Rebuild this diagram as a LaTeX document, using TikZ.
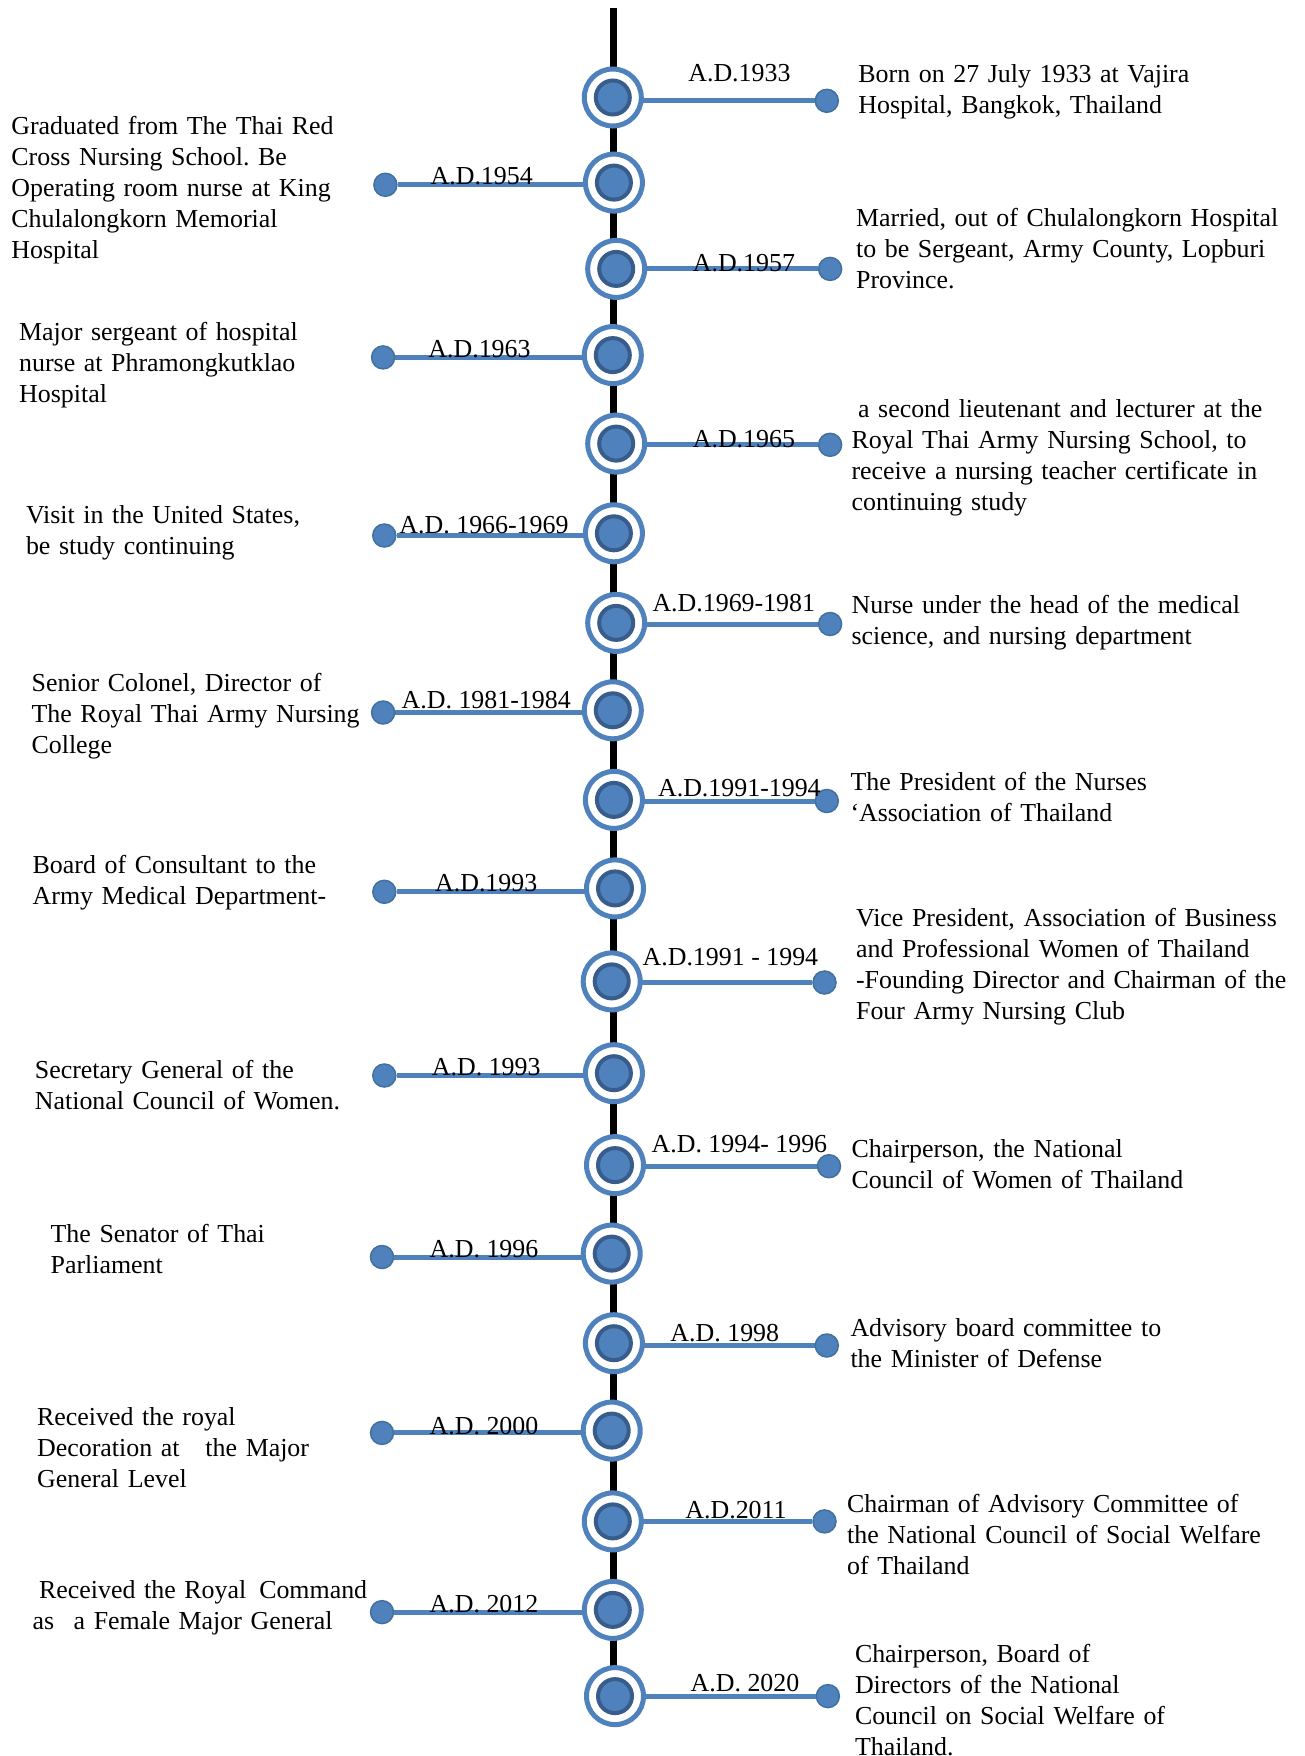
\documentclass[tikz,border=0pt]{standalone}
\usepackage{fontspec}
\setmainfont{Liberation Serif}
\usetikzlibrary{backgrounds}
\frenchspacing
\definecolor{ringblue}{HTML}{4F81BD}
\definecolor{coreedge}{HTML}{385D8A}
\definecolor{dotedge}{HTML}{41719C}
\tikzset{
  ring/.style={circle, draw=ringblue, line width=5pt, fill=white, minimum size=57pt, inner sep=0pt, outer sep=0pt},
  core/.style={circle, draw=coreedge, line width=4pt, fill=ringblue, minimum size=34pt, inner sep=0pt},
  enddot/.style={circle, draw=dotedge, line width=1.5pt, fill=ringblue, minimum size=23pt, inner sep=0pt},
  hline/.style={draw=ringblue, line width=5pt},
  spine/.style={draw=black, line width=7pt},
  year/.style={font=\fontsize{25.9}{31}\selectfont, inner sep=0pt, anchor=base},
  desc/.style={font=\fontsize{25.9}{31}\selectfont, inner sep=0pt, anchor=base west, text width=480pt, align=left},
}
\begin{document}
\begin{tikzpicture}[x=1pt,y=-1pt]
\useasboundingbox (0,0) rectangle (1304,1756);
\coordinate (top) at (613,8);
\foreach \i/\cx/\cy/\dx/\dy in {
 1/612.8/97.5/826.8/100.8,
 2/613.9/182.6/385.4/184.8,
 3/616.2/268.9/830.1/268.9,
 4/612.8/355.1/383.1/357.4,
 5/616.2/443.6/830.1/444.8,
 6/613.9/533.3/384.3/535.5,
 7/616.2/622.9/830.1/624.0,
 8/612.8/710.3/383.1/712.5,
 9/613.9/799.9/826.8/801.0,
 10/615.0/888.4/384.3/891.8,
 11/611.7/981.4/824.5/982.5,
 12/613.9/1073.2/384.3/1075.5,
 13/615.0/1165.1/829.0/1166.2,
 14/611.7/1253.6/382.0/1257.0,
 15/613.9/1343.2/826.8/1345.5,
 16/611.7/1430.6/382.0/1432.9,
 17/612.8/1521.4/824.5/1521.4,
 18/612.8/1609.9/382.0/1612.1,
 19/615.0/1696.1/827.9/1696.1}{
  \node[ring] (c\i) at (\cx,\cy) {};
  \node[core] (k\i) at (c\i) {};
  \node[enddot] (d\i) at (\dx,\dy) {};
}
\coordinate (bot) at (top |- c19.center);
\begin{scope}[on background layer]
  \fill[white] (0,0) rectangle (1304,1756);
  \draw[spine] (top) -- (bot);
  \foreach \i in {1,...,19} \draw[hline] (c\i.center |- d\i) -- (d\i);
\end{scope}
% year labels
\node[year] (l1) at (739.4,81.8) {A.D.1933};
\node[year] (l2) at (481.7,184.9) {A.D.1954};
\node[year] (l3) at (743.9,271.2) {A.D.1957};
\node[year] (l4) at (479.5,357.4) {A.D.1963};
\node[year] (l5) at (743.9,447.0) {A.D.1965};
\node[year] (l6) at (484.0,533.3) {A.D. 1966-1969};
\node[year] (l7) at (733.8,611.7) {A.D.1969-1981};
\node[year] (l8) at (486.2,708.1) {A.D. 1981-1984};
\node[year] (l9) at (739.4,796.6) {A.D.1991-1994};
\node[year] (l10) at (486.2,891.8) {A.D.1993};
\node[year] (l11) at (730.4,965.7) {A.D.1991 - 1994};
\node[year] (l12) at (486.2,1075.5) {A.D. 1993};
\node[year] (l13) at (739.4,1152.8) {A.D. 1994- 1996};
\node[year] (l14) at (484.0,1257.0) {A.D. 1996};
\node[year] (l15) at (724.8,1341.0) {A.D. 1998};
\node[year] (l16) at (484.0,1434.0) {A.D. 2000};
\node[year] (l17) at (736.0,1518.0) {A.D.2011};
\node[year] (l18) at (484.0,1612.2) {A.D. 2012};
\node[year] (l19) at (745.0,1691.7) {A.D. 2020};
% descriptions
\node[desc] (t1) at (858.2,82.9) {Born on 27 July 1933 at Vajira\\Hospital, Bangkok, Thailand};
\node[desc] (t2) at (11.2,134.4) {Graduated from The Thai Red\\Cross Nursing School. Be\\Operating room nurse at King\\Chulalongkorn Memorial\\Hospital};
\node[desc] (t3) at (855.9,226.3) {Married, out of Chulalongkorn Hospital\\to be Sergeant, Army County, Lopburi\\Province.};
\node[desc] (t4) at (19.0,340.6) {Major sergeant of hospital\\nurse at Phramongkutklao\\Hospital};
\node[desc] (t5) at (851.4,417.9) {\hspace*{0.25em}a second lieutenant and lecturer at the\\Royal Thai Army Nursing School, to\\receive a nursing teacher certificate in\\continuing study};
\node[desc] (t6) at (25.8,523.2) {Visit in the United States,\\be study continuing};
\node[desc] (t7) at (851.4,613.9) {Nurse under the head of the medical\\science, and nursing department};
\node[desc] (t8) at (31.4,691.2) {Senior Colonel, Director of\\The Royal Thai Army Nursing\\College};
\node[desc] (t9) at (850.3,790.9) {The President of the Nurses\\‘Association of Thailand};
\node[desc] (t10) at (32.5,873.8) {Board of Consultant to the\\Army Medical Department-};
\node[desc] (t11) at (855.9,926.5) {Vice President, Association of Business\\and Professional Women of Thailand\\-Founding Director and Chairman of the\\Four Army Nursing Club};
\node[desc] (t12) at (34.7,1078.9) {Secretary General of the\\National Council of Women.};
\node[desc] (t13) at (851.4,1157.3) {Chairperson, the National\\Council of Women of Thailand};
\node[desc] (t14) at (50.4,1242.4) {The Senator of Thai\\Parliament};
\node[desc] (t15) at (850.3,1336.5) {Advisory board committee to\\the Minister of Defense};
\node[desc] (t16) at (37.0,1425.5) {Received the royal\\Decoration at\hspace{1em}the Major\\General Level};
\node[desc] (t17) at (847.0,1512.4) {Chairman of Advisory Committee of\\the National Council of Social Welfare\\of Thailand};
\node[desc] (t18) at (32.5,1598.6) {\hspace*{0.25em}Received the Royal\hspace{0.5em}Command\\as\hspace{0.75em}a Female Major General};
\node[desc] (t19) at (854.8,1662.5) {Chairperson, Board of\\Directors of the National\\Council on Social Welfare of\\Thailand.};
\end{tikzpicture}
\end{document}
